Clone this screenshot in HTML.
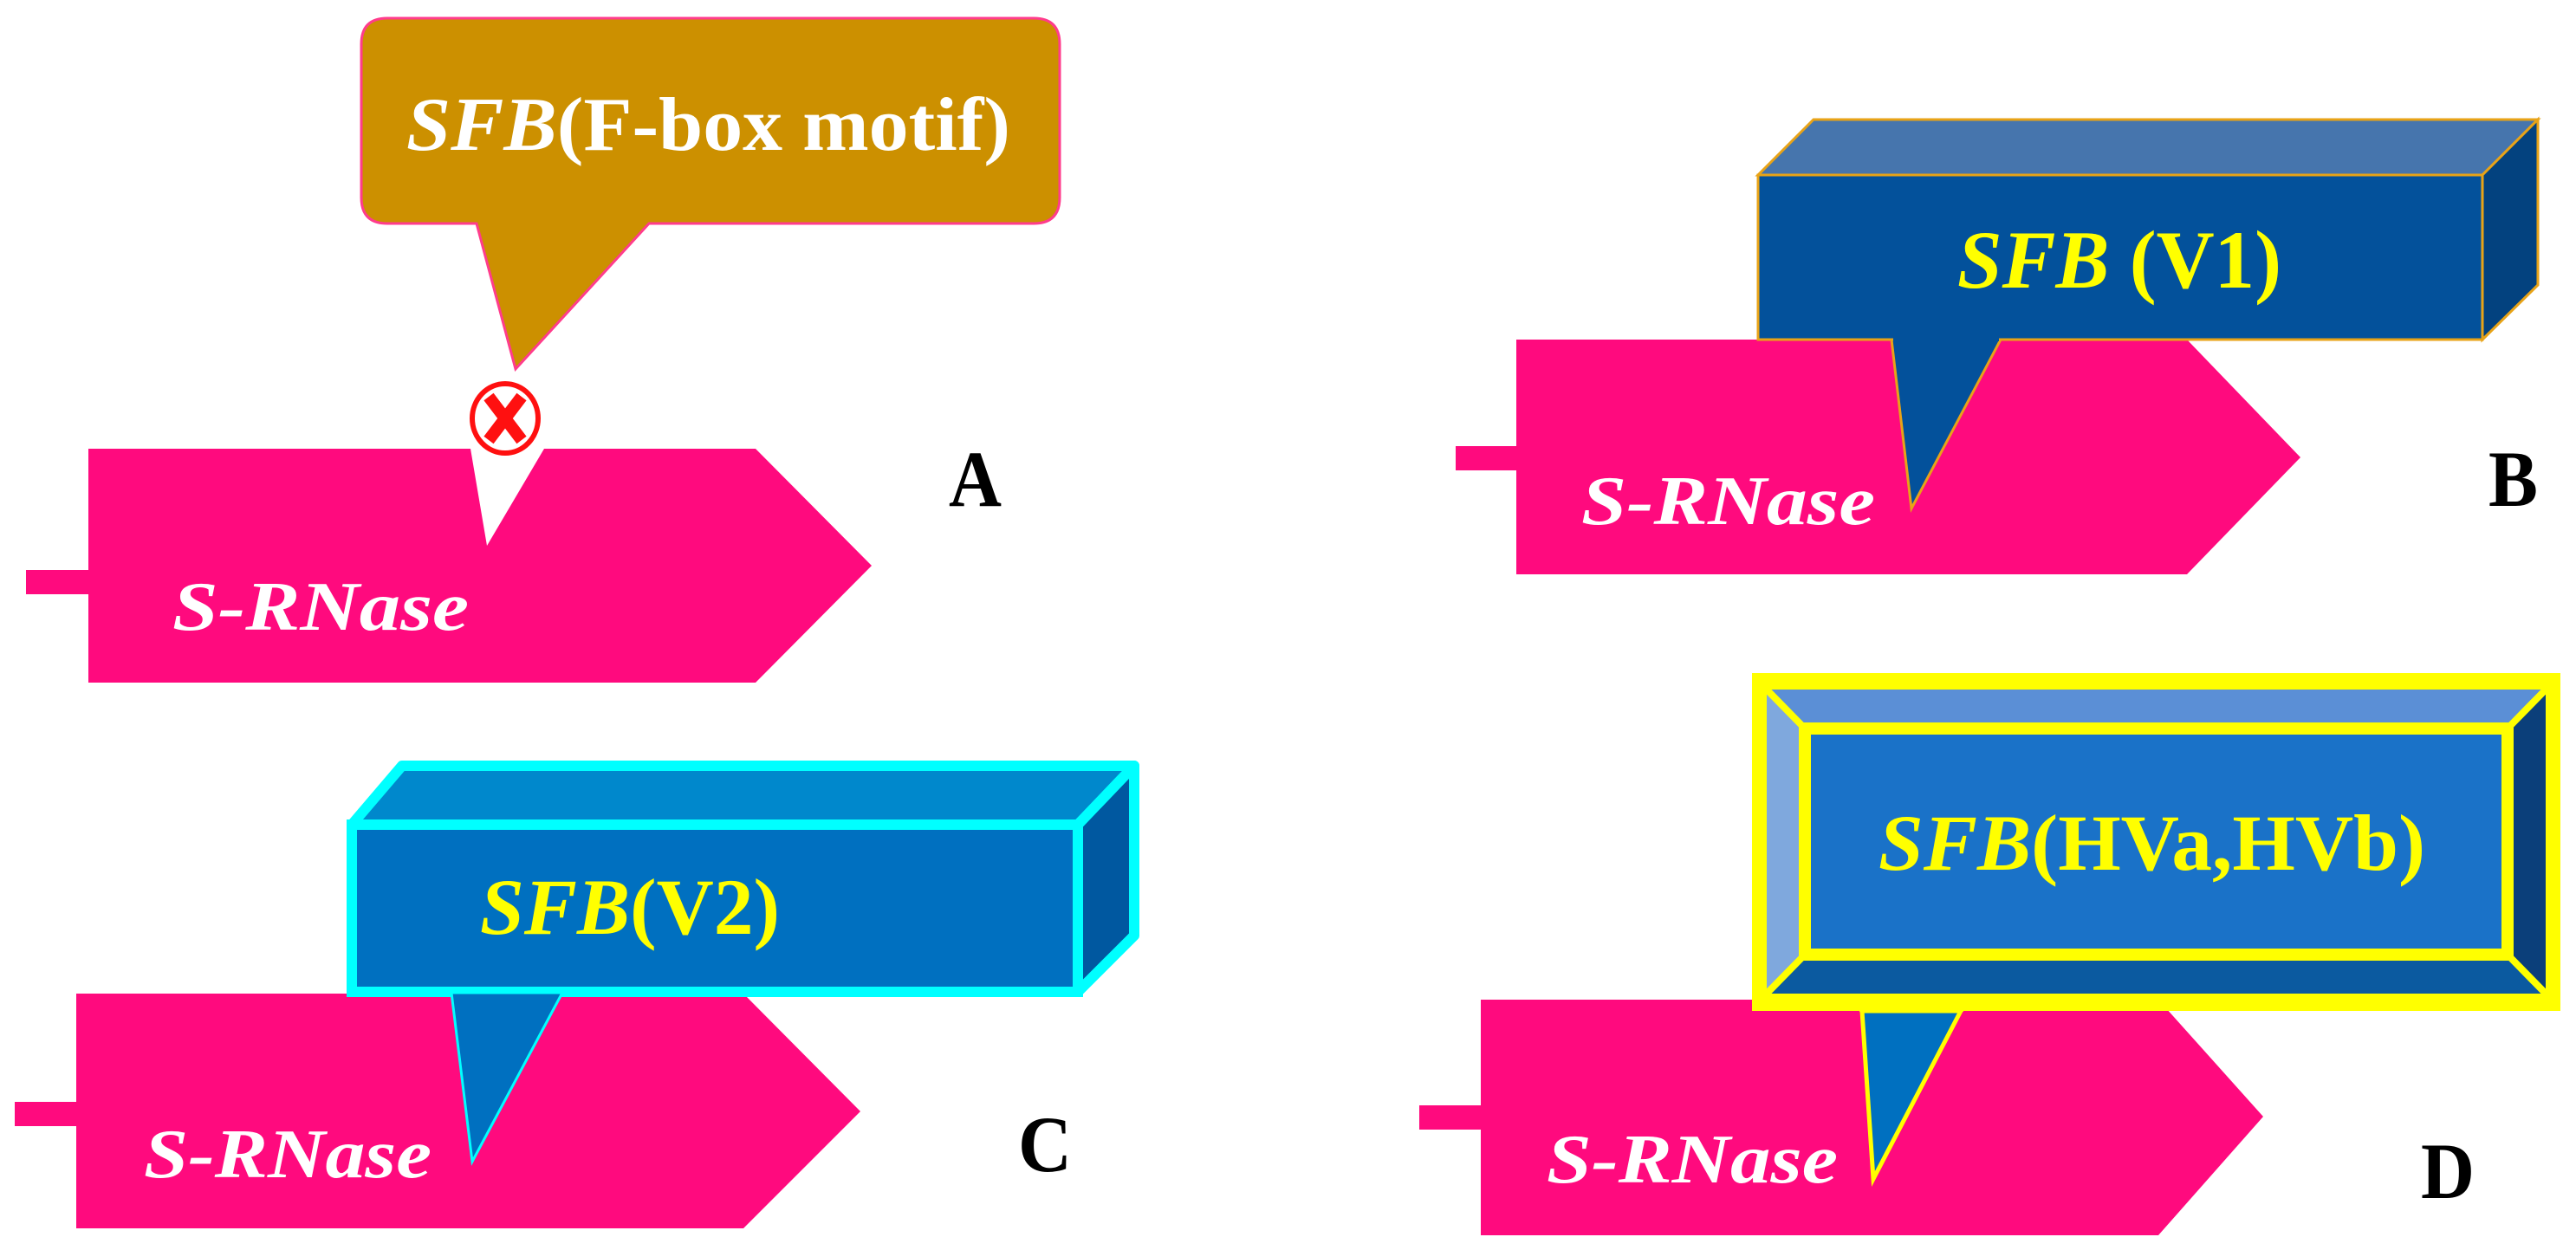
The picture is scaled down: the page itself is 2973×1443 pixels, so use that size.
<!DOCTYPE html>
<html><head><meta charset="utf-8"><style>
html,body{margin:0;padding:0;background:#fff;}
svg{display:block;}
text{font-family:"Liberation Serif",serif;font-weight:bold;}
</style></head><body>
<svg width="2973" height="1443" viewBox="0 0 2973 1443" xmlns="http://www.w3.org/2000/svg">
<!-- Panel A -->
<rect x="30" y="658" width="74" height="28" fill="#FF0A7E"/>
<polygon points="102,518 543,518 562,630 628,518 872,518 1006,653 872,788 102,788" fill="#FF0A7E"/>
<path d="M447,21 H1193 Q1223,21 1223,51 V228 Q1223,258 1193,258 H749 L595,426 L550,258 H447 Q417,258 417,228 V51 Q417,21 447,21 Z" fill="#CC9000" stroke="#FF3C8C" stroke-width="3"/>
<text x="469" y="173" font-size="88" fill="#fff" textLength="697" lengthAdjust="spacingAndGlyphs"><tspan font-style="italic">SFB</tspan>(F-box motif)</text>
<ellipse cx="583" cy="483" rx="38" ry="40" fill="#fff" stroke="#FF1010" stroke-width="6"/>
<path d="M564,458 L602,508 M602,458 L564,508" stroke="#FF1010" stroke-width="14"/>
<text x="199" y="727" font-size="80" font-style="italic" fill="#fff" textLength="342" lengthAdjust="spacingAndGlyphs">S-RNase</text>
<text x="1095" y="584" font-size="92" fill="#000" textLength="61" lengthAdjust="spacingAndGlyphs">A</text>

<!-- Panel B -->
<rect x="1680" y="515" width="72" height="28" fill="#FF0A7E"/>
<polygon points="1750,392 2524,392 2655,528 2524,663 1750,663" fill="#FF0A7E"/>
<text x="1825" y="605" font-size="80" font-style="italic" fill="#fff" textLength="339" lengthAdjust="spacingAndGlyphs">S-RNase</text>
<polygon points="2093,138 2929,138 2865,202 2029,202" fill="#4675AD" stroke="#E8A317" stroke-width="3"/>
<polygon points="2865,202 2929,138 2929,329 2865,392" fill="#03427F" stroke="#E8A317" stroke-width="3"/>
<rect x="2029" y="202" width="836" height="190" fill="#03519B" stroke="#E8A317" stroke-width="3"/>
<polygon points="2183,392 2309,392 2206,587" fill="#03519B" stroke="#E8A317" stroke-width="3"/>
<rect x="2185" y="388" width="122" height="6" fill="#03519B"/>
<text x="2259" y="332" font-size="95" fill="#FFFF00" textLength="374" lengthAdjust="spacingAndGlyphs"><tspan font-style="italic">SFB</tspan> (V1)</text>
<text x="2872" y="584" font-size="92" fill="#000" textLength="57" lengthAdjust="spacingAndGlyphs">B</text>

<!-- Panel C -->
<rect x="17" y="1272" width="73" height="28" fill="#FF0A7E"/>
<polygon points="88,1147 858,1147 993,1283 858,1418 88,1418" fill="#FF0A7E"/>
<text x="166" y="1359" font-size="80" font-style="italic" fill="#fff" textLength="332" lengthAdjust="spacingAndGlyphs">S-RNase</text>
<polygon points="464,884 1309,884 1244,952 406,952" fill="#0088CC" stroke="#00FFFF" stroke-width="12" stroke-linejoin="round"/>
<polygon points="1244,952 1309,884 1309,1080 1244,1145" fill="#0058A0" stroke="#00FFFF" stroke-width="12" stroke-linejoin="round"/>
<rect x="406" y="952" width="838" height="193" fill="#0070C0" stroke="#00FFFF" stroke-width="12"/>
<polygon points="521,1146 649,1146 545,1341" fill="#0070C0" stroke="#00FFFF" stroke-width="3"/>
<rect x="523" y="1140" width="124" height="3" fill="#00FFFF"/>
<text x="554" y="1078" font-size="92" fill="#FFFF00" textLength="346" lengthAdjust="spacingAndGlyphs"><tspan font-style="italic">SFB</tspan>(V2)</text>
<text x="1175" y="1352" font-size="92" fill="#000" textLength="62" lengthAdjust="spacingAndGlyphs">C</text>

<!-- Panel D -->
<rect x="1638" y="1276" width="73" height="28" fill="#FF0A7E"/>
<polygon points="1709,1154 2491,1154 2612,1289 2491,1426 1709,1426" fill="#FF0A7E"/>
<text x="1785" y="1365" font-size="80" font-style="italic" fill="#fff" textLength="336" lengthAdjust="spacingAndGlyphs">S-RNase</text>
<rect x="2022" y="777" width="933" height="390" fill="#FFFF00"/>
<polygon points="2036,793 2941,793 2894,841 2083,841" fill="#5B8FD6"/>
<polygon points="2036,793 2083,841 2083,1102 2036,1150" fill="#7FA8DD"/>
<polygon points="2941,793 2941,1150 2894,1102 2894,841" fill="#0B3F7A"/>
<polygon points="2036,1150 2083,1102 2894,1102 2941,1150" fill="#0B5AA0"/>
<path d="M2036,793 L2083,841 M2941,793 L2894,841 M2036,1150 L2083,1102 M2941,1150 L2894,1102" stroke="#FFFF00" stroke-width="8"/>
<rect x="2036" y="793" width="905" height="357" fill="none" stroke="#FFFF00" stroke-width="6"/>
<rect x="2083" y="841" width="811" height="261" fill="#1A72C8" stroke="#FFFF00" stroke-width="14"/>
<polygon points="2149,1167 2263,1167 2162,1361" fill="#0070C0" stroke="#FFFF00" stroke-width="5"/>
<rect x="2146" y="1160" width="120" height="8" fill="#FFFF00"/>
<text x="2168" y="1004" font-size="92" fill="#FFFF00" textLength="631" lengthAdjust="spacingAndGlyphs"><tspan font-style="italic">SFB</tspan>(HVa,HVb)</text>
<text x="2794" y="1383" font-size="92" fill="#000" textLength="62" lengthAdjust="spacingAndGlyphs">D</text>
</svg>
</body></html>
